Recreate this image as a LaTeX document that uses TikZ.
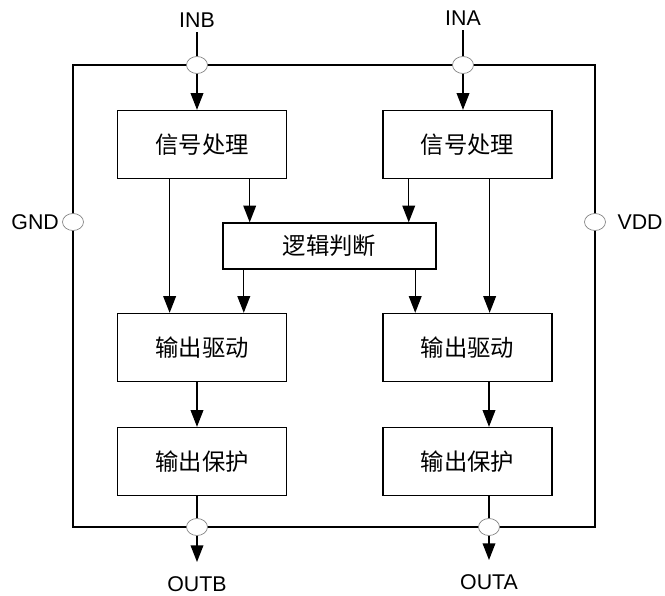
\documentclass[tikz,border=0pt]{standalone}
\usepackage{fontspec}
\setmainfont{Liberation Sans}
\newfontfamily\cjk{Noto Sans CJK SC}
\usetikzlibrary{arrows.meta,calc,shapes.geometric}

\begin{document}
\begin{tikzpicture}[x=0.75pt,y=-0.75pt,
  line width=1pt,
  font=\fontsize{16}{19}\selectfont,
  box/.style={draw,minimum width=126.75pt,minimum height=51pt,inner sep=0pt,
              font=\cjk\fontsize{17.5}{20}\selectfont},
  pin/.style={draw=gray,ellipse,fill=white,line width=0.5pt,
              minimum width=15.75pt,minimum height=12.75pt,inner sep=0pt},
  >={Triangle[length=12.5pt,width=9.5pt]}
]
  \useasboundingbox (0,0) rectangle (665,596);

  % chip outline
  \coordinate (fnw) at (73,65);
  \coordinate (fse) at (595,527);
  \draw (fnw) rectangle (fse);

  \node[pin] (inB) at (197,65) {};
  \node[pin] (inA) at (463,65) {};
  \node[pin,label={[inner sep=2pt]left:GND}] (gnd) at (73,222) {};
  \node[pin,label={[label distance=5pt]right:VDD}] (vdd) at (595,222) {};
  \node[pin] (outB) at (197,527) {};
  \node[pin] (outA) at (489,527) {};

  \node (inBl) at (197,20) {INB};
  \node (inAl) at (463,18) {INA};
  \node (outBl) at (197,584) {OUTB};
  \node (outAl) at (489,582) {OUTA};

  % blocks
  \node[box] (sigB) at (202,144.5) {信号处理};
  \node[box] (sigA) at (467.5,144.5) {信号处理};
  \node[box,minimum width=159.75pt,minimum height=34.5pt] (logic) at (329.5,246) {逻辑判断};
  \node[box] (drvB) at (202,347.5) {输出驱动};
  \node[box] (drvA) at (467.5,347.5) {输出驱动};
  \node[box] (proB) at (202,461.5) {输出保护};
  \node[box] (proA) at (467.5,461.5) {输出保护};

  % inputs
  \draw (inBl) -- (inB);
  \draw (inAl) -- (inA);
  \draw[->] (inB) -- (inB |- sigB.north);
  \draw[->] (inA) -- (inA |- sigA.north);

  % signal paths
  \draw[->] ($(sigB.south west)!.31!(sigB.south east)$) coordinate (b1) -- (b1 |- drvB.north);
  \draw[->] ($(sigB.south west)!.78!(sigB.south east)$) coordinate (b2) -- (b2 |- logic.north);
  \draw[->] ($(sigA.south west)!.155!(sigA.south east)$) coordinate (a2) -- (a2 |- logic.north);
  \draw[->] ($(sigA.south west)!.63!(sigA.south east)$) coordinate (a1) -- (a1 |- drvA.north);
  \draw[->] ($(logic.south west)!.1!(logic.south east)$) coordinate (b3) -- (b3 |- drvB.north);
  \draw[->] ($(logic.south west)!.9!(logic.south east)$) coordinate (a3) -- (a3 |- drvA.north);
  \draw[->] (inB |- drvB.south) -- (inB |- proB.north);
  \draw[->] (outA |- drvA.south) -- (outA |- proA.north);

  % outputs
  \draw (outB |- proB.south) -- (outB);
  \draw (outA |- proA.south) -- (outA);
  \draw[->,shorten >=7pt] (outB) -- (outBl);
  \draw[->,shorten >=7pt] (outA) -- (outAl);
\end{tikzpicture}
\end{document}
